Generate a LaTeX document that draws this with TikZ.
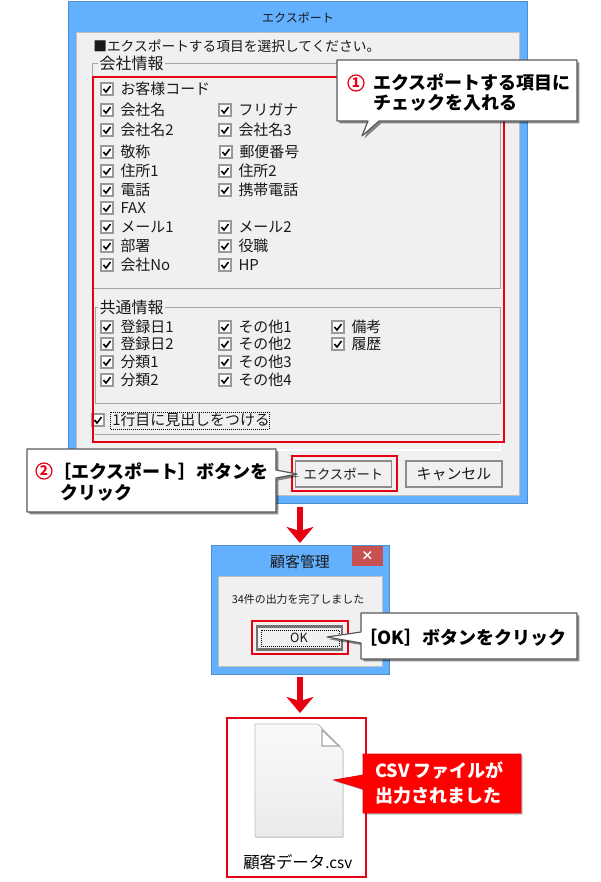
\documentclass[tikz,border=0pt]{standalone}
\usepackage{fontspec}
\usepackage{tikz}
\usetikzlibrary{arrows.meta,positioning,shadows}
\setmainfont{Noto Sans CJK JP}
\definecolor{winblue}{HTML}{63B0FF}
\definecolor{panelgrey}{HTML}{F0F0F0}
\definecolor{framered}{HTML}{E60012}
\definecolor{closered}{HTML}{C75050}
\newcommand{\bodysize}{\fontsize{11.2}{13}\selectfont}
\newcommand{\callsize}{\fontsize{13.5}{16}\selectfont\bfseries}
\tikzset{
        winframe/.style={fill=winblue, draw=winblue!80!black, line width=0.4pt},
        panel/.style={fill=panelgrey, draw=white!75!black, line width=0.4pt},
        groupline/.style={draw=black!35, line width=0.5pt},
        redbox/.style={draw=framered, line width=1.6pt},
        chkbox/.style={draw=black!40, fill=white, line width=0.9pt, minimum size=9pt, inner sep=0pt},
        tick/.style={line width=1.2pt},
        itemlabel/.style={inner sep=0pt, font=\bodysize, text=black!90},
        plainlabel/.style={inner sep=0pt, text=black!90},
        btn/.style={draw=black!45, fill=panelgrey, line width=0.8pt, inner sep=0pt, font=\bodysize, text=black!90},
        callbox/.style={fill=white, draw=black!65, line width=0.9pt, line join=round,
            drop shadow={shadow xshift=1.8pt, shadow yshift=-1.8pt, opacity=0.45, fill=black}},
        calltext/.style={inner sep=0pt, font=\callsize, text=black, anchor=west},
        flowarrow/.style={draw=framered, line width=4.8pt, -{Stealth[length=12pt, width=20pt, inset=3pt]}},
    }
\begin{document}
\begin{tikzpicture}[x = 0.75pt, y = -0.75pt]
    \useasboundingbox (0,0) rectangle (600,882);
    % export dialog
    \path[winframe] (68,1) rectangle (527,503);
    \path[panel] (76,32) rectangle (519,495);
    \node[plainlabel, font=\fontsize{9}{11}\selectfont] (exptitle) at (298,18) {エクスポート};
    \node[itemlabel, anchor=west, font=\fontsize{10.3}{13}\selectfont] (exphead) at (93,46) {■エクスポートする項目を選択してください。};
    \draw[groupline] (92,63) rectangle (500,288);
    \node[itemlabel, fill=panelgrey, inner xsep=1pt, anchor=west, font=\fontsize{12}{14}\selectfont] (grpcompany) at (98,63) {会社情報};
    \draw[groupline] (95,307) rectangle (500,403);
    \node[itemlabel, fill=panelgrey, inner xsep=1pt, anchor=west, font=\fontsize{12}{14}\selectfont] (grpcommon) at (98,307) {共通情報};
    \draw[groupline] (95,434) -- (500,434);
    \draw[white, line width=0.8pt] (93,450) -- (500,450) -- (500,442);
    \foreach \colx/\rowy/\itemtext in {107/89/お客様コード, 107/110/会社名, 225/110/フリガナ,
        107/130/会社名2, 225/130/会社名3, 107/152/敬称, 226/152/郵便番号, 107/171/住所1, 225/171/住所2,
        107/190/電話, 225/190/携帯電話, 107/208/FAX, 107/227/メール1, 225/227/メール2,
        107/246/部署, 225/246/役職, 107/265/会社No, 225/265/HP,
        107/327/登録日1, 225/327/その他1, 338/327/備考,
        107/344/登録日2, 225/344/その他2, 338/344/履歴,
        107/362/分類1, 225/362/その他3, 107/380/分類2, 225/380/その他4}
    {
        \node[chkbox] (chk\colx-\rowy) at (\colx,\rowy) {};
        \draw[tick] ([shift={(-3.5,0)}]chk\colx-\rowy.center) -- ++(2.5,3) -- ++(4.5,-6);
        \node[itemlabel, right=5pt of chk\colx-\rowy] (lab\colx-\rowy) {\itemtext};
    }
    \node[chkbox] (chkheading) at (98,420) {};
    \draw[tick] ([shift={(-3.5,0)}]chkheading.center) -- ++(2.5,3) -- ++(4.5,-6);
    \node[itemlabel, anchor=west] (labheading) at (112,420) {1行目に見出しをつける};
    \draw[black, densely dotted, line width=0.5pt] (110,412) rectangle (269,429);
    \node[btn, minimum width=72pt, minimum height=19.5pt, font=\fontsize{10}{12}\selectfont] (btnexport) at (343.5,474) {エクスポート};
    \node[btn, minimum width=72pt, minimum height=19.5pt] (btncancel) at (454,474) {キャンセル};
    \draw[redbox] (93,77) rectangle (504,442);
    \draw[redbox] (292,456) rectangle (397,491);
    % callout 1
    \draw[callbox] (337,60) -- (577,60) -- (577,121) -- (379,121) -- (362,136) -- (368,121) -- (337,121) -- cycle;
    \node[circle, draw=framered, line width=0.9pt, text=framered, inner sep=0pt, minimum size=12pt,
        font=\fontsize{10}{12}\selectfont\bfseries] (numone) at (356,83) {1};
    \node[calltext] (callonea) at (373,82) {エクスポートする項目に};
    \node[calltext] (calloneb) at (373,103) {チェックを入れる};
    % callout 2
    \draw[callbox] (27,449) -- (276,449) -- (276,470) -- (297,474) -- (276,478) -- (276,512) -- (27,512) -- cycle;
    \node[circle, draw=framered, line width=0.9pt, text=framered, inner sep=0pt, minimum size=12pt,
        font=\fontsize{10}{12}\selectfont\bfseries] (numtwo) at (44,471) {2};
    \node[calltext] (calltwoa) at (53,471) {［エクスポート］ボタンを};
    \node[calltext] (calltwob) at (60,493) {クリック};
    % arrows
    \coordinate (arrowatop) at (300,507);
    \coordinate (arrowatip) at (300,543);
    \coordinate (arrowbtop) at (300,677);
    \coordinate (arrowbtip) at (300,713);
    \draw[flowarrow] (arrowatop) -- (arrowatip);
    \draw[flowarrow] (arrowbtop) -- (arrowbtip);
    % finish dialog
    \path[winframe] (211,545) rectangle (389,674);
    \path[panel] (218,576) rectangle (382,666);
    \path[fill=closered] (352,546) rectangle (383,566);
    \node[text=white, inner sep=0pt, font=\fontsize{9.5}{11}\selectfont\bfseries] (closex) at (367.5,556) {×};
    \node[plainlabel, font=\fontsize{11.2}{13}\selectfont] (fintitle) at (300,562) {顧客管理};
    \node[plainlabel, font=\fontsize{8.2}{11}\selectfont] (finmsg) at (298,599) {34件の出力を完了しました};
    \node[draw=black!55, fill=panelgrey, line width=1.8pt, minimum width=64pt, minimum height=17pt, inner sep=0pt] (btnok) at (299.5,638) {};
    \draw[black, densely dotted, line width=0.5pt] (261,630) rectangle (339,646);
    \node[plainlabel, font=\fontsize{9.5}{11}\selectfont] (oktext) at (299,638) {OK};
    \draw[redbox] (252,621) rectangle (348,654);
    % callout 3
    \draw[callbox] (361,613) -- (577,613) -- (577,659) -- (361,659) -- (361,643) -- (327,637) -- (361,632) -- cycle;
    \node[calltext] (callthree) at (359,638) {［OK］ボタンをクリック};
    % file
    \draw[redbox] (227,718) rectangle (366,877);
    \draw[draw=black!25, line width=0.7pt, top color=white!98!black, bottom color=black!8, rounded corners=0.6pt,
        drop shadow={shadow xshift=0.5pt, shadow yshift=-0.6pt, opacity=0.15, fill=black}]
        (255,724) -- (318,724) -- (343,750) -- (343,837) -- (255,837) -- cycle;
    \draw[draw=black!35, line width=0.9pt, fill=white] (322,730) -- (322,746) -- (339,746) -- cycle;
    \node[plainlabel, text=black, anchor=west, font=\fontsize{12.3}{14}\selectfont] (filelabel) at (243,862) {顧客データ{\fontsize{11.5}{13}\selectfont .csv}};
    % callout 4
    \path[fill=red, draw=framered, line width=0.6pt, drop shadow={shadow xshift=1.2pt, shadow yshift=-1.2pt, opacity=0.25, fill=black}]
        (363,754) -- (521,754) -- (521,813) -- (363,813) -- (363,789) -- (334,780) -- (363,775) -- cycle;
    \node[calltext, text=white] (callfoura) at (375,771) {CSV ファイルが};
    \node[calltext, text=white] (callfourb) at (375,796) {出力されました};
\end{tikzpicture}
\end{document}
